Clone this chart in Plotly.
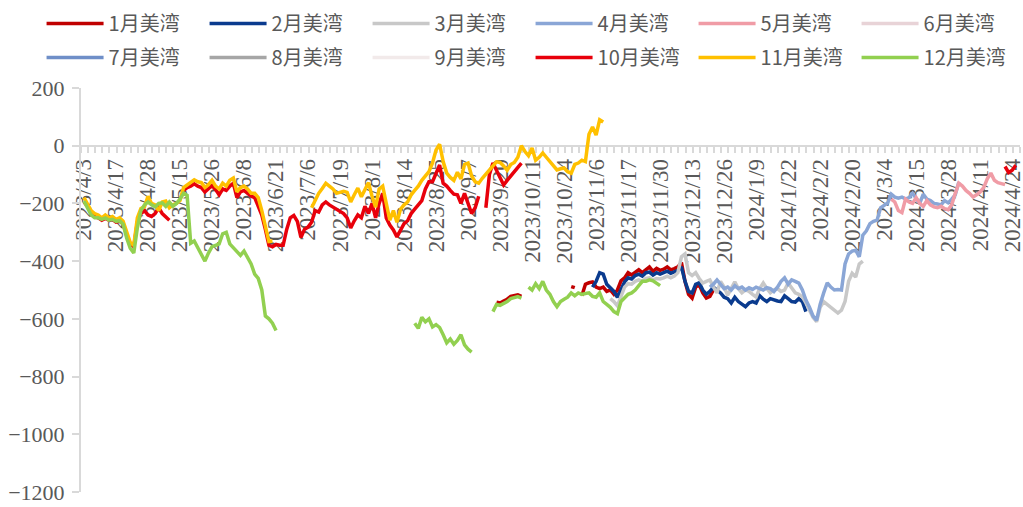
import plotly.graph_objects as go

# Trading-day axis: one slot per quote day, labelled every 9th day
N_DAYS = 263
LABEL_STEP = 9
tick_labels = [
    "2023/4/3", "2023/4/17", "2023/4/28", "2023/5/15", "2023/5/26", "2023/6/8",
    "2023/6/21", "2023/7/6", "2023/7/19", "2023/8/1", "2023/8/14", "2023/8/25",
    "2023/9/7", "2023/9/20", "2023/10/11", "2023/10/24", "2023/11/6", "2023/11/17",
    "2023/11/30", "2023/12/13", "2023/12/26", "2024/1/9", "2024/1/22", "2024/2/2",
    "2024/2/20", "2024/3/4", "2024/3/15", "2024/3/28", "2024/4/11", "2024/4/24",
]

# Basis quotes by shipment month: (first trading-day slot, values)
jan_basis = [
    (116, [-542, -545, -538, -532, -522, -518, -517, -522]),
    (137, [-488, -492]),
    (140, [-520, -480, -475, -472, -490, -495, -490, -505, -500, -515,
           -500, -468, -458, -440, -448, -438, -430, -440, -428, -420,
           -435, -425, -432, -428, -420, -430, -426, -420, -405, -470,
           -515, -528, -490, -482, -510, -528, -522, -500]),
]
feb_basis = [
    (143, [-490, -470, -440, -445, -480, -492, -505, -525, -500, -472,
           -458, -462, -450, -445, -452, -440, -438, -448, -440, -445,
           -440, -435, -442, -438, -432, -420, -470, -505, -510, -480,
           -475, -500, -515, -505, -490, -500, -510, -525, -530, -545,
           -525, -540, -548, -558, -545, -540, -545, -520, -532, -540,
           -530, -535, -538, -540, -520, -530, -540, -542, -530, -540,
           -575]),
]
mar_basis = [
    (148, [-530, -540, -555, -520, -490, -478, -480, -470, -465, -470,
           -460, -458, -465, -460, -462, -458, -452, -458, -452, -440,
           -385, -375, -440, -450, -440, -460, -476, -470, -465, -490,
           -510, -470, -490, -518, -495, -472, -495, -510, -500, -505,
           -515, -524, -495, -476, -495, -510, -500, -495, -505, -500,
           -476, -495, -510, -515, -524, -545, -570, -595, -610, -560,
           -540, -550, -558, -570, -580, -570, -540, -470, -442, -455,
           -410, -400]),
]
apr_basis = [
    (176, [-490, -480, -465, -480, -495, -490, -500, -485, -495, -490,
           -500, -492, -498, -490, -495, -500, -492, -495, -505, -490,
           -470, -458, -480, -465, -470, -476, -500, -535, -560, -590,
           -605, -550, -510, -475, -490, -500, -498, -500, -410, -375,
           -365, -362, -385, -310, -295, -270, -262, -258, -215, -205,
           -198, -168, -178, -182, -178, -185, -180, -165, -185, -200,
           -168, -185, -190, -200, -202, -205, -190, -198, -185, -170,
           -126]),
]
may_basis = [
    (227, [-185, -195, -225, -232, -185, -195, -200, -180, -200, -210,
           -190, -205, -212, -215, -210, -218, -222, -205, -165, -130,
           -140, -155, -165, -178, -170, -160, -145, -115, -95, -120,
           -128, -132, -135]),
]
jun_basis = []
jul_basis = []
aug_basis = []
sep_basis = []
oct_basis = [
    (0, [-195, -210, -235, -245, -250, -258, -252, -258, -255, -265,
         -262, -270, -310, -340, -350, -265, -235, -225, -240, -245,
         -235, -215, -235, -245, -258]),
    (28, [-155, -145, -140, -132, -140, -145, -160, -150, -138, -152,
          -170, -150, -155, -140, -130, -180, -160, -155, -165, -175,
          -180, -210, -240, -290, -345, -350, -342, -345, -345, -290,
          -250, -242, -262, -318, -290, -282, -265, -225, -230, -205,
          -195, -205, -212, -220, -228, -235, -250, -285, -260, -240,
          -250, -210, -235, -200, -250, -200, -165, -250, -275, -292,
          -316, -290, -270, -260, -235, -220, -205, -190, -150, -125,
          -125, -95, -67, -130, -140, -155, -168, -170, -200, -165,
          -205, -235, -215, -175]),
    (113, [-215, -100, -60, -85, -110, -136, -120, -105, -90, -75, -60]),
    (259, [-72, -93, -85, -68]),
]
nov_basis = [
    (0, [-180, -200, -225, -235, -240, -250, -240, -250, -245, -255,
         -250, -262, -300, -335, -345, -250, -218, -212, -175, -200,
         -205, -225, -195, -192, -215, -205, -200, -190, -145, -135,
         -128, -118, -125, -128, -145, -135, -120, -140, -150, -130,
         -140, -120, -112, -160, -145, -140, -150, -165, -165, -180,
         -225, -280, -332, -330]),
    (64, [-215, -190, -165, -148, -130, -140, -150, -165, -162, -158,
          -162, -195, -170, -147, -177, -155, -128, -175, -213, -150,
          -140, -200, -258, -225, -265, -220, -205, -195, -170, -155,
          -140, -120, -105, -90, -60, -15, 5, -55, -95, -110,
          -120, -92, -115, -65, -60, -105, -125, -130, -113, -100,
          -85, -70, -56, -58, -70, -85, -65, -58, -40, 0,
          -20, -35, -8, -50, -40, -25, -40, -56, -70, -84,
          -80, -77, -90, -95, -65, -60, -50, -55, 40, 65,
          37, 90, 82]),
]
dec_basis = [
    (0, [-192, -215, -240, -250, -250, -255, -250, -258, -255, -262,
         -260, -272, -320, -355, -372, -285, -225, -205, -195, -205,
         -212, -200, -198, -210, -195, -210, -200, -185, -165, -172,
         -338, -330, -355, -380, -400, -372, -350, -345, -340, -305,
         -300, -340, -352, -365, -380, -365, -385, -410, -445, -460,
         -500, -590, -600, -615, -640]),
    (93, [-615, -633, -595, -610, -600, -628, -620, -630, -655, -683,
          -670, -688, -675, -655, -690, -705, -715]),
    (115, [-575, -550, -553, -548, -540, -530, -525, -523, -528]),
    (125, [-490, -500, -478, -495, -470, -500, -515, -540, -558, -540,
           -532, -525, -510, -520, -510, -515, -512, -510, -522, -525,
           -510, -540, -550, -560, -575, -582, -540, -528, -515, -510,
           -500, -485, -470, -470, -465, -468, -475, -485]),
]

series = [
    ("1月美湾", jan_basis, "#C00000"),
    ("2月美湾", feb_basis, "#0A3B8E"),
    ("3月美湾", mar_basis, "#C8C8C8"),
    ("4月美湾", apr_basis, "#8AA6D6"),
    ("5月美湾", may_basis, "#F09CA6"),
    ("6月美湾", jun_basis, "#E8D3D7"),
    ("7月美湾", jul_basis, "#6F8FC8"),
    ("8月美湾", aug_basis, "#A6A6A6"),
    ("9月美湾", sep_basis, "#F2EAEA"),
    ("10月美湾", oct_basis, "#E8000B"),
    ("11月美湾", nov_basis, "#FFC000"),
    ("12月美湾", dec_basis, "#92D050"),
]


def expand(segments):
    """Place each quoted stretch on the full trading-day axis, gaps left empty."""
    y = [None] * N_DAYS
    for start, vals in segments:
        for k, v in enumerate(vals):
            y[start + k] = v
    return y


days = list(range(N_DAYS))
fig = go.Figure()
for idx, (name, segs, color) in enumerate(series):
    fig.add_trace(go.Scatter(
        x=days, y=expand(segs), name=name, mode="lines",
        line=dict(color=color, width=3.5),
        connectgaps=False,
        legend="legend" if idx < 6 else "legend2",
    ))

AXIS_GRAY = "#D9D9D9"
TEXT_GRAY = "#595959"
Y_MIN, Y_MAX = -1200, 200
zero_pos = (0 - Y_MIN) / (Y_MAX - Y_MIN)

legend_style = dict(
    orientation="h", xanchor="left", yanchor="top", x=-0.042,
    entrywidth=91, entrywidthmode="pixels", itemwidth=57,
    font=dict(family="Noto Sans CJK SC", size=20, color=TEXT_GRAY),
    bgcolor="rgba(0,0,0,0)", borderwidth=0,
)

fig.update_layout(
    width=1023, height=507,
    margin=dict(l=81, r=3, t=88, b=15),
    paper_bgcolor="white", plot_bgcolor="white",
    showlegend=True,
    legend=dict(legend_style, y=1.208),
    legend2=dict(legend_style, y=1.124),
    xaxis=dict(
        range=[-0.84, 263.2],
        anchor="free", position=zero_pos,
        tickmode="array",
        tickvals=list(range(0, LABEL_STEP * len(tick_labels), LABEL_STEP)),
        ticktext=tick_labels,
        tickangle=-90,
        ticks="", ticklabelstandoff=3, ticklabeloverflow="allow",
        tickfont=dict(family="Liberation Serif", size=23, color=TEXT_GRAY),
        showline=True, linecolor=AXIS_GRAY, linewidth=2,
        minor=dict(ticks="outside", tickmode="linear", tick0=-0.84, dtick=2,
                   ticklen=6, tickcolor=AXIS_GRAY, tickwidth=1.5),
        showgrid=False, zeroline=False, automargin=False,
        layer="below traces",
    ),
    yaxis=dict(
        range=[Y_MIN, Y_MAX], dtick=200, tick0=0,
        ticks="outside", ticklen=7, tickcolor=AXIS_GRAY, tickwidth=1.5,
        showline=True, linecolor=AXIS_GRAY, linewidth=2, ticklabelstandoff=3,
        tickfont=dict(family="Liberation Serif", size=22, color=TEXT_GRAY),
        showgrid=False, zeroline=False, automargin=False,
    ),
)

fig.write_html("out.html")
